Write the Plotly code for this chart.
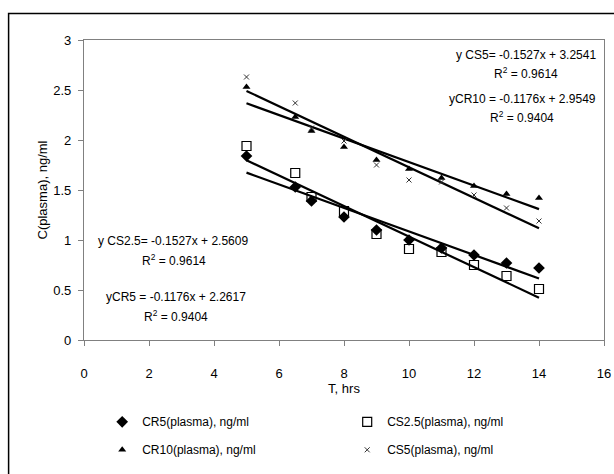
import plotly.graph_objects as go

# ---- data ----
t_hrs = [5, 6.5, 7, 8, 9, 10, 11, 12, 13, 14]
cr5 = [1.84, 1.53, 1.39, 1.23, 1.10, 1.00, 0.92, 0.85, 0.77, 0.72]
cs25 = [1.94, 1.67, 1.43, 1.29, 1.06, 0.91, 0.88, 0.75, 0.64, 0.51]
cr10 = [2.53, 2.23, 2.09, 1.93, 1.80, 1.71, 1.62, 1.54, 1.46, 1.42]
cs5 = [2.63, 2.37, 2.12, 1.99, 1.75, 1.60, 1.58, 1.45, 1.32, 1.19]

series_names = ["CR5(plasma), ng/ml", "CS2.5(plasma), ng/ml",
                "CR10(plasma), ng/ml", "CS5(plasma), ng/ml"]
trend_slopes = [-0.1176, -0.1527, -0.1176, -0.1527]
trend_intercepts = [2.2617, 2.5609, 2.9549, 3.2541]
trend_range = [5, 14]

eq_texts = ["yCR5 = -0.1176x + 2.2617", "y CS2.5= -0.1527x + 2.5609",
            "yCR10 = -0.1176x + 2.9549", "y CS5= -0.1527x + 3.2541"]
r2_texts = ["R<sup>2</sup> = 0.9404", "R<sup>2</sup> = 0.9614",
            "R<sup>2</sup> = 0.9404", "R<sup>2</sup> = 0.9614"]

x_ticks = [0, 2, 4, 6, 8, 10, 12, 14, 16]
y_ticks = [0, 0.5, 1, 1.5, 2, 2.5, 3]

FONT = "Liberation Sans, Arial, sans-serif"

fig = go.Figure()

# trend lines
for m, b in zip(trend_slopes, trend_intercepts):
    fig.add_trace(go.Scatter(
        x=trend_range, y=[m * trend_range[0] + b, m * trend_range[1] + b],
        mode="lines", line=dict(color="black", width=2.2),
        showlegend=False, hoverinfo="skip"))

marker_styles = [
    dict(symbol="diamond", size=9, color="black"),
    dict(symbol="square-open", size=9, color="black", line=dict(width=1.2)),
    dict(symbol="triangle-up", size=7, color="black"),
    dict(symbol="x-thin-open", size=5, color="#333333", line=dict(width=1, color="#333333")),
]
legend_ids = ["legend", "legend", "legend2", "legend2"]
for name, ys, mk, lg in zip(series_names, [cr5, cs25, cr10, cs5], marker_styles, legend_ids):
    fig.add_trace(go.Scatter(x=t_hrs, y=ys, mode="markers", name=name,
                             marker=mk, legend=lg))

# equation annotations (position: x, y in data coordinates)
ann_pos = [
    (2.84, 0.43, "center", 2.84, 0.24, "center"),   # CR5
    (0.36, 0.99, "left", 2.78, 0.80, "center"),     # CS2.5
    (15.82, 2.41, "right", 13.48, 2.235, "center"), # CR10
    (15.82, 2.855, "right", 13.6, 2.67, "center"),  # CS5
]
for (ex, ey, ea, rx, ry, ra), et, rt in zip(ann_pos, eq_texts, r2_texts):
    fig.add_annotation(x=ex, y=ey, text=et, showarrow=False, xanchor=ea,
                       font=dict(family=FONT, size=12, color="black"))
    fig.add_annotation(x=rx, y=ry, text=rt, showarrow=False, xanchor=ra,
                       font=dict(family=FONT, size=12, color="black"))

# outer chart border
fig.add_shape(type="rect", xref="paper", yref="paper",
              x0=-0.145, x1=1.2, y0=-0.5, y1=1.0887,
              line=dict(color="black", width=1.5), layer="below")

axis_common = dict(
    showgrid=False, zeroline=False, showline=True, linecolor="#808080",
    linewidth=1.2, mirror=True, ticks="outside", ticklen=5, tickcolor="#808080",
    tickfont=dict(family=FONT, size=13, color="black"), automargin=False,
)

legend_common = dict(orientation="h", xanchor="left", yanchor="middle",
                     entrywidth=200, entrywidthmode="pixels",
                     font=dict(family=FONT, size=12), bgcolor="rgba(0,0,0,0)")

fig.update_layout(
    width=614, height=474,
    margin=dict(l=83.5, r=10, t=39.5, b=124.5),
    paper_bgcolor="white", plot_bgcolor="white",
    font=dict(family=FONT, size=12, color="black"),
    xaxis=dict(range=[0, 16], tickvals=x_ticks, ticklabelstandoff=16,
               title=dict(text="T, hrs", font=dict(family=FONT, size=13), standoff=0),
               **axis_common),
    yaxis=dict(range=[0, 3], tickvals=y_ticks, ticklabelstandoff=4,
               title=dict(text="C(plasma), ng/ml", font=dict(family=FONT, size=13), standoff=2),
               **axis_common),
    legend=dict(x=0.035, y=-0.2726, **legend_common),
    legend2=dict(x=0.035, y=-0.366, **legend_common),
    showlegend=True,
)

fig.write_html("out.html", config={"displayModeBar": False},
               post_script="document.body.style.margin='0';")
